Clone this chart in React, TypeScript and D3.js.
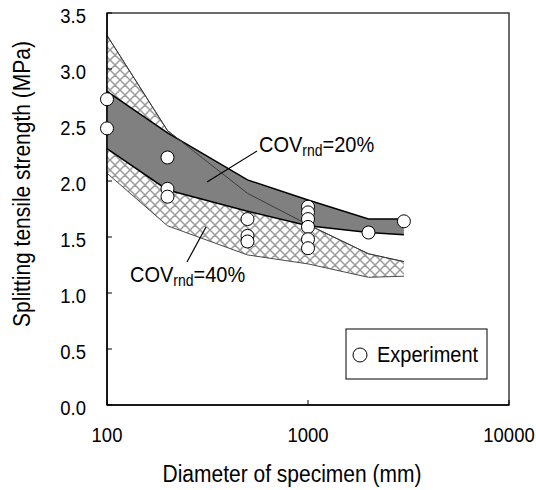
import React from "react";
import * as d3 from "d3";

// Simulated specimen diameters (mm)
const simDiameters = [100, 200, 500, 1000, 2000, 3000];
// COV_rnd = 20% band (MPa)
const cov20Upper = [2.8, 2.43, 2.01, 1.83, 1.66, 1.66];
const cov20Lower = [2.29, 1.92, 1.73, 1.6, 1.54, 1.52];
// COV_rnd = 40% band (MPa)
const cov40Upper = [3.3, 2.45, 1.89, 1.61, 1.35, 1.28];
const cov40Lower = [2.07, 1.6, 1.34, 1.26, 1.14, 1.15];

// Experimental results: diameter (mm) and strength (MPa)
const expDiameters = [
  100, 100, 200, 200, 200, 500, 500, 500,
  1000, 1000, 1000, 1000, 1000, 1000, 2000, 3000,
];
const expStrengths = [
  2.73, 2.47, 2.21, 1.93, 1.86, 1.66, 1.51, 1.46,
  1.77, 1.72, 1.66, 1.59, 1.48, 1.4, 1.54, 1.64,
];

const xTicks = [100, 1000, 10000];
const yTicks = [0, 0.5, 1, 1.5, 2, 2.5, 3, 3.5];

const FONT = "'Liberation Sans', Arial, Helvetica, sans-serif";

// Text with a slightly tall glyph shape
function TallText(props: {
  x: number;
  y: number;
  size: number;
  anchor?: "start" | "middle" | "end";
  rotate?: number;
  children: React.ReactNode;
}) {
  const { x, y, size, anchor = "start", rotate = 0, children } = props;
  return (
    <text
      transform={`translate(${x},${y}) rotate(${rotate}) scale(1,1.12)`}
      textAnchor={anchor}
      fontSize={size}
      fill="#000"
    >
      {children}
    </text>
  );
}

export default function App() {
  const width = 536;
  const height = 490;
  const x = d3.scaleLog().domain([100, 10000]).range([107, 509]);
  const y = d3.scaleLinear().domain([0, 3.5]).range([405, 13]);

  type Row = { d: number; lo: number; hi: number };
  const band40: Row[] = simDiameters.map((d, i) => ({ d, lo: cov40Lower[i], hi: cov40Upper[i] }));
  const band20: Row[] = simDiameters.map((d, i) => ({ d, lo: cov20Lower[i], hi: cov20Upper[i] }));

  const area = d3
    .area<Row>()
    .x((r) => x(r.d))
    .y0((r) => y(r.lo))
    .y1((r) => y(r.hi));
  const upper = d3
    .line<Row>()
    .x((r) => x(r.d))
    .y((r) => y(r.hi));
  const lower = d3
    .line<Row>()
    .x((r) => x(r.d))
    .y((r) => y(r.lo));

  const [x0, x1] = x.range();
  const [y0, y1] = y.range();

  return (
    <svg
      width={width}
      height={height}
      style={{ position: "absolute", left: 0, top: 0, display: "block", background: "#fff" }}
      fontFamily={FONT}
    >
      <defs>
        <pattern id="xhatch" patternUnits="userSpaceOnUse" width={10} height={10}>
          <rect width={10} height={10} fill="#ffffff" />
          <path d="M0,0 L10,10 M10,0 L0,10 M-5,5 L5,15 M5,-5 L15,5 M5,15 L15,5 M-5,5 L5,-5" stroke="#9c9c9c" strokeWidth={1.5} />
        </pattern>
      </defs>

      {/* plot frame */}
      <rect x={x0} y={y1} width={x1 - x0} height={y0 - y1} fill="#fff" stroke="#3a3a3a" strokeWidth={1.5} />

      {/* COV 40% band */}
      <path d={area(band40) ?? ""} fill="url(#xhatch)" />
      <path d={upper(band40) ?? ""} fill="none" stroke="#4a4a4a" strokeWidth={1} />
      <path d={lower(band40) ?? ""} fill="none" stroke="#4a4a4a" strokeWidth={1} />

      {/* COV 20% band */}
      <path d={area(band20) ?? ""} fill="#808080" />
      <path d={upper(band20) ?? ""} fill="none" stroke="#000" strokeWidth={1.5} />
      <path d={lower(band20) ?? ""} fill="none" stroke="#000" strokeWidth={1.5} />
      <path d={upper(band40) ?? ""} fill="none" stroke="#3c3c3c" strokeWidth={1} />

      {/* axes */}
      <line x1={x0} x2={x0} y1={y1} y2={y0} stroke="#000" strokeWidth={1.5} />
      <line x1={x0} x2={x1} y1={y0} y2={y0} stroke="#000" strokeWidth={1.5} />
      {yTicks.map((t) => (
        <g key={`y${t}`}>
          <line x1={x0} x2={x0 + 5} y1={y(t)} y2={y(t)} stroke="#000" strokeWidth={1} />
          <TallText x={86} y={y(t) + 10} size={18.5} anchor="end">
            {t.toFixed(1)}
          </TallText>
        </g>
      ))}
      {xTicks.map((t) => (
        <g key={`x${t}`}>
          <line x1={x(t)} x2={x(t)} y1={y0} y2={y0 - 5} stroke="#000" strokeWidth={1} />
          <TallText x={x(t)} y={442} size={18.5} anchor="middle">
            {t}
          </TallText>
        </g>
      ))}

      {/* axis titles */}
      <TallText x={292} y={482} size={21} anchor="middle">
        Diameter of specimen (mm)
      </TallText>
      <TallText x={30} y={184} size={21} anchor="middle" rotate={-90}>
        Splitting tensile strength (MPa)
      </TallText>

      {/* band annotations */}
      <line x1={257} y1={151} x2={207} y2={182} stroke="#000" strokeWidth={1.2} />
      <TallText x={259} y={152} size={20}>
        COV
        <tspan fontSize={14} dy={4}>rnd</tspan>
        <tspan dy={-4}>=20%</tspan>
      </TallText>
      <line x1={187} y1={262} x2={206} y2={227} stroke="#000" strokeWidth={1.2} />
      <TallText x={130} y={282} size={20}>
        COV
        <tspan fontSize={14} dy={4}>rnd</tspan>
        <tspan dy={-4}>=40%</tspan>
      </TallText>

      {/* experiments */}
      {expDiameters.map((d, i) => (
        <circle key={i} cx={x(d)} cy={y(expStrengths[i])} r={6.5} fill="#fff" stroke="#000" strokeWidth={1} />
      ))}

      {/* legend */}
      <rect x={346} y={329} width={141} height={50} fill="#fff" stroke="#000" strokeWidth={1} />
      <circle cx={360} cy={355} r={7} fill="#fff" stroke="#000" strokeWidth={1} />
      <TallText x={377} y={362} size={20}>
        Experiment
      </TallText>
    </svg>
  );
}
